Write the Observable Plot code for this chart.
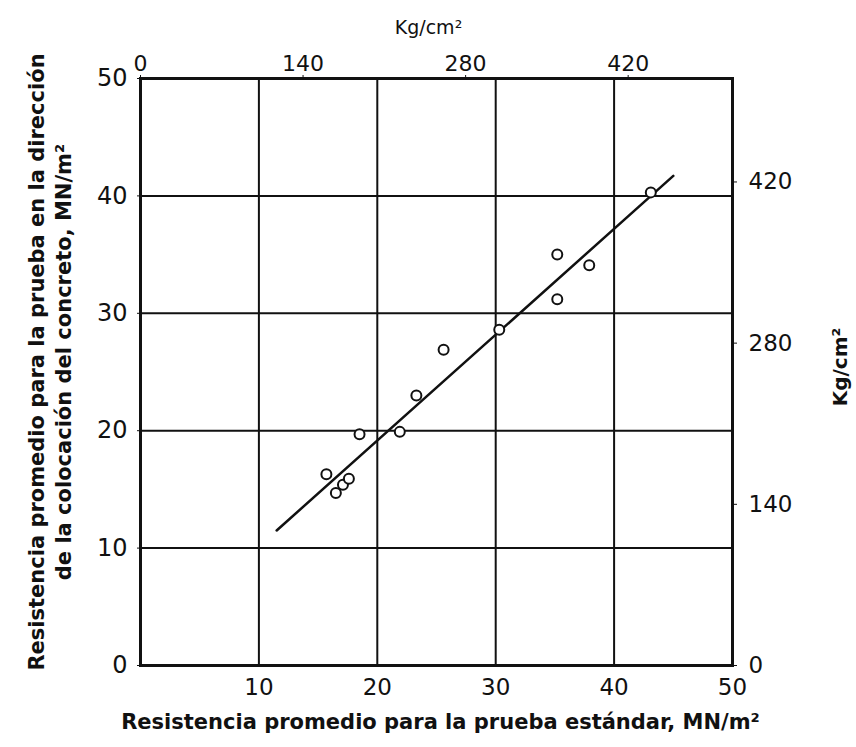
<!DOCTYPE html>
<html><head><meta charset="utf-8">
<script src="https://cdn.jsdelivr.net/npm/d3@7"></script>
<script src="https://cdn.jsdelivr.net/npm/@observablehq/plot@0.6"></script>
<style>body{margin:0;background:#fff}</style>
</head><body><div id="chart"></div>
<script>
// conversion factor: 1 kg/cm² = 0.0980665 MN/m²
const KG = 0.0980665;
const xTicks = [10, 20, 30, 40, 50];
const yTicks = [0, 10, 20, 30, 40, 50];
const gridXVals = [10, 20, 30, 40];
const gridYVals = [10, 20, 30, 40];
const kgTopTicks = [0, 140, 280, 420];
const kgRightTicks = [0, 140, 280, 420];
// measured points (MN/m²)
const ptX = [15.7, 16.5, 17.1, 17.6, 18.5, 21.9, 23.3, 25.6, 30.3, 35.2, 37.9, 35.2, 43.1];
const ptY = [16.3, 14.7, 15.4, 15.9, 19.7, 19.9, 23.0, 26.9, 28.6, 35.0, 34.1, 31.2, 40.3];
// fitted line end points
const lineX = [11.5, 45.0];
const lineY = [11.5, 41.7];
const xTitle = "Resistencia promedio para la prueba estándar, MN/m²";
const yTitle = "Resistencia promedio para la prueba en la dirección\nde la colocación del concreto, MN/m²";
const kgTitle = "Kg/cm²";

const points = ptX.map((x, i) => ({x, y: ptY[i]}));
const fitLine = lineX.map((x, i) => ({x, y: lineY[i]}));
const ink = "#111";

const chart = Plot.plot({
  width: 856, height: 747,
  marginLeft: 140, marginRight: 124, marginTop: 78, marginBottom: 82,
  x: {domain: [0, 50]},
  y: {domain: [0, 50]},
  style: {fontFamily: "DejaVu Sans", fontSize: "20px", color: ink, background: "#fff"},
  marks: [
    Plot.gridX(gridXVals, {stroke: ink, strokeOpacity: 1, strokeWidth: 2}),
    Plot.gridY(gridYVals, {stroke: ink, strokeOpacity: 1, strokeWidth: 2}),
    Plot.frame({stroke: ink, strokeWidth: 3}),
    Plot.axisY(yTicks, {anchor: "left", tickSize: 3, tickPadding: 10, fontSize: 24, label: null}),
    Plot.axisX(xTicks, {anchor: "bottom", tickSize: 0, tickPadding: 13, fontSize: 23, label: null}),
    Plot.axisX(kgTopTicks.map(k => k * KG), {anchor: "top", tickSize: 4, tickPadding: 4, fontSize: 22,
      tickFormat: d => String(Math.round(d / KG)), label: null}),
    Plot.axisY(kgRightTicks.map(k => k * KG), {anchor: "right", tickSize: 4, tickPadding: 12, fontSize: 23,
      tickFormat: d => String(Math.round(d / KG)), label: null}),
    Plot.line(fitLine, {x: "x", y: "y", stroke: ink, strokeWidth: 2.5}),
    Plot.dot(points, {x: "x", y: "y", r: 5, stroke: ink, strokeWidth: 2, fill: "#fff"}),
    Plot.text([kgTitle], {text: d => d, frameAnchor: "top", dx: -8, dy: -58, fontSize: 19}),
    Plot.text([kgTitle], {text: d => d, frameAnchor: "right", textAnchor: "middle", dx: 108, dy: -5, rotate: -90, fontSize: 20, fontWeight: "bold"}),
    Plot.text([xTitle], {text: d => d, frameAnchor: "bottom", dx: 4, dy: 63, fontSize: 21, fontWeight: "bold"}),
    Plot.text([yTitle], {text: d => d, frameAnchor: "left", textAnchor: "middle", dx: -92, dy: -10, rotate: -90, fontSize: 21, fontWeight: "bold", lineHeight: 1.3})
  ]
});
document.getElementById("chart").appendChild(chart);
</script>
</body></html>
